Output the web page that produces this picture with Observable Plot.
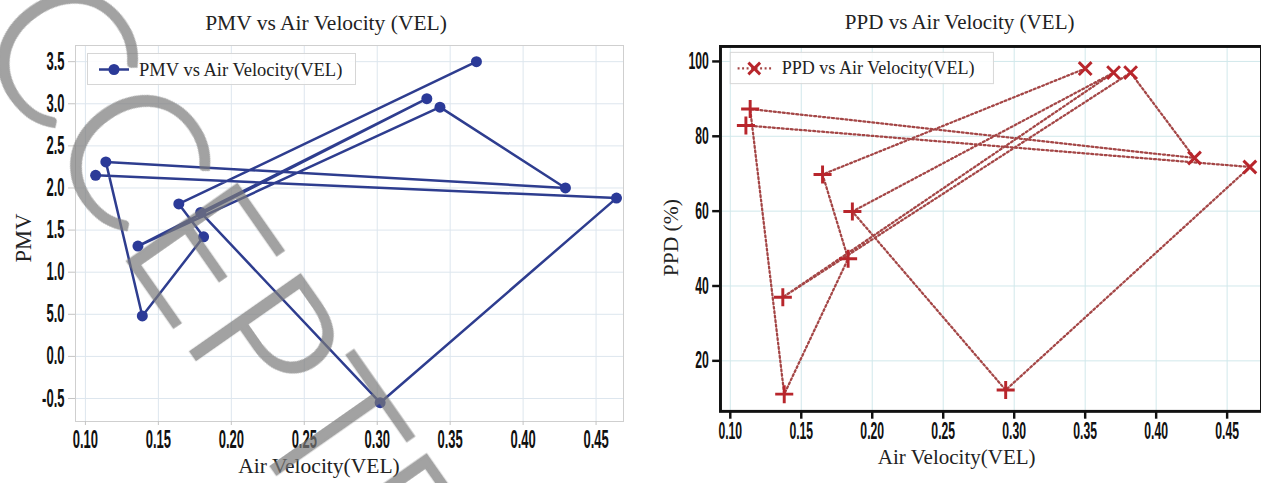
<!DOCTYPE html>
<html><head><meta charset="utf-8">
<script src="https://cdn.jsdelivr.net/npm/d3@7"></script>
<script src="https://cdn.jsdelivr.net/npm/@observablehq/plot@0.6"></script>
<style>
html,body{margin:0;padding:0;background:#fff;}
#wrap{position:relative;width:1261px;height:483px;overflow:hidden;background:#fff;}
#left{position:absolute;left:0;top:0;}
#right{position:absolute;left:630px;top:0;}
#wm{position:absolute;left:0;top:0;pointer-events:none;}
</style></head><body>
<div id="wrap"><div id="left"></div><div id="right"></div><svg id="wm" width="1261" height="483"></svg></div>
<script>
// ---- data (in plotting order) ----
const pmvVel = [0.107, 0.464, 0.302, 0.179, 0.334, 0.136, 0.343, 0.429, 0.114, 0.139, 0.181, 0.164, 0.368];
const pmvVal = [2.15, 1.88, -0.55, 1.71, 3.06, 1.31, 2.96, 2.00, 2.31, 0.48, 1.42, 1.81, 3.50];
const ppdVel = [0.111, 0.466, 0.294, 0.186, 0.370, 0.137, 0.382, 0.427, 0.114, 0.138, 0.183, 0.165, 0.350];
const ppdVal = [82.9, 71.8, 12.2, 59.9, 97.0, 37.0, 97.0, 74.2, 87.3, 11.1, 47.3, 69.8, 98.1];

const velTicks = [0.10, 0.15, 0.20, 0.25, 0.30, 0.35, 0.40, 0.45];
const velTickLabels = ["0.10", "0.15", "0.20", "0.25", "0.30", "0.35", "0.40", "0.45"];
const pmvTicks = [3.5, 3.0, 2.5, 2.0, 1.5, 1.0, 0.5, 0.0, -0.5];
const pmvTickLabels = ["3.5", "3.0", "2.5", "2.0", "1.5", "1.0", "5.0", "0.0", "-0.5"];
const ppdTicks = [100, 80, 60, 40, 20];
const ppdTickLabels = ["100", "80", "60", "40", "20"];

const pmvTitle = "PMV vs Air Velocity (VEL)";
const ppdTitle = "PPD vs Air Velocity (VEL)";
const pmvLegend = "PMV vs Air Velocity(VEL)";
const ppdLegend = "PPD vs Air Velocity(VEL)";
const xLabel = "Air Velocity(VEL)";
const pmvLabel = "PMV";
const ppdLabel = "PPD (%)";
const watermark = ["ACC", "EPTED"];

// ---- build tables ----
const pmvData = pmvVel.map((v, i) => ({vel: v, val: pmvVal[i]}));
const ppdData = ppdVel.map((v, i) => ({vel: v, val: ppdVal[i]}));

const BLUE = "#2e3d8f", BLUE_DOT = "#2b3a98";
const RED_LINE = "#a44646", RED_MK = "#b8262c";
const SERIF = "'Liberation Serif','Times New Roman',serif";
const TICKFONT = "'Liberation Sans',Arial,sans-serif";

function fmt(ticks, labels) { return d => labels[ticks.indexOf(d)] ?? ""; }

function squeezeTicks(svg, sx, fs) {
  d3.select(svg).selectAll('g[aria-label="x-axis tick label"] text, g[aria-label="y-axis tick label"] text')
    .each(function() {
      const el = d3.select(this);
      let t = el.attr("transform");
      if (!t) {
        const x = +el.attr("x") || 0, y = +el.attr("y") || 0;
        el.attr("x", null).attr("y", null);
        t = `translate(${x},${y})`;
      }
      el.attr("transform", t + ` scale(${sx},1)`)
        .attr("font-family", TICKFONT).attr("font-weight", "bold").attr("font-size", fs).attr("fill", "#111");
    });
}

function addText(sel, o) {
  const t = sel.append("text").attr("font-family", SERIF).attr("fill", "#222")
    .attr("text-anchor", o.anchor || "start").attr("font-size", o.size).text(o.text);
  if (o.transform) t.attr("transform", o.transform); else t.attr("x", o.x).attr("y", o.y);
  return t;
}

// ---- left chart ----
const left = Plot.plot({
  width: 630, height: 483,
  marginLeft: 75, marginRight: 7, marginTop: 45, marginBottom: 62,
  x: {domain: [0.0932, 0.4688]},
  y: {domain: [-0.773, 3.692]},
  style: {background: "transparent", overflow: "visible"},
  marks: [
    Plot.gridX(velTicks, {stroke: "#dde6ee", strokeOpacity: 1}),
    Plot.gridY(pmvTicks, {stroke: "#dde6ee", strokeOpacity: 1}),
    Plot.frame({stroke: "#cfcfcf"}),
    Plot.axisX(velTicks, {tickFormat: fmt(velTicks, velTickLabels), tickSize: 4, tickPadding: 5, stroke: "#c4c4c4", label: null}),
    Plot.axisY(pmvTicks, {tickFormat: fmt(pmvTicks, pmvTickLabels), tickSize: 7, tickPadding: 4, stroke: "#c4c4c4", label: null}),
    Plot.line(pmvData, {x: "vel", y: "val", stroke: BLUE, strokeWidth: 2.5}),
    Plot.dot(pmvData, {x: "vel", y: "val", r: 5.5, fill: BLUE_DOT, stroke: "none"})
  ]
});
squeezeTicks(left, 0.52, 25);
{
  const s = d3.select(left);
  addText(s, {x: 326, y: 30, anchor: "middle", size: 21.5, text: pmvTitle});
  addText(s, {x: 319, y: 473, anchor: "middle", size: 21.5, text: xLabel});
  addText(s, {transform: "translate(31,238) rotate(-90)", anchor: "middle", size: 22.5, text: pmvLabel});
  const g = s.append("g");
  g.append("rect").attr("x", 87.5).attr("y", 53.5).attr("width", 268).attr("height", 31)
    .attr("fill", "rgba(255,255,255,0.85)").attr("stroke", "#d6d6d6");
  g.append("line").attr("x1", 99).attr("x2", 129).attr("y1", 69.5).attr("y2", 69.5).attr("stroke", BLUE).attr("stroke-width", 2.5);
  g.append("circle").attr("cx", 114).attr("cy", 69.5).attr("r", 5.5).attr("fill", BLUE_DOT);
  addText(g, {x: 139, y: 75.5, size: 18.5, text: pmvLegend});
}
document.getElementById("left").appendChild(left);

// ---- right chart ----
const right = Plot.plot({
  width: 645, height: 483,
  marginLeft: 92, marginRight: 0, marginTop: 47, marginBottom: 63,
  x: {domain: [0.0931, 0.4742]},
  y: {domain: [6.5, 104]},
  style: {background: "transparent", overflow: "visible"},
  marks: [
    Plot.gridX(velTicks, {stroke: "#d0e7eb", strokeOpacity: 1}),
    Plot.gridY(ppdTicks, {stroke: "#d0e7eb", strokeOpacity: 1}),
    Plot.axisX(velTicks, {tickFormat: fmt(velTicks, velTickLabels), tickSize: 8, tickPadding: 3, stroke: "#111", strokeWidth: 2.5, label: null}),
    Plot.axisY(ppdTicks, {tickFormat: fmt(ppdTicks, ppdTickLabels), tickSize: 8, tickPadding: 4, stroke: "#111", strokeWidth: 2.5, label: null}),
    Plot.line(ppdData, {x: "vel", y: "val", stroke: RED_LINE, strokeWidth: 2.3, strokeDasharray: "2,2.6"}),
    Plot.dot(ppdData, {x: "vel", y: "val", r: 6, stroke: RED_MK, strokeWidth: 3,
      symbol: d => d.vel > 0.32 ? "times" : "plus"}),
    Plot.frame({stroke: "#111", strokeWidth: 3})
  ]
});
squeezeTicks(right, 0.52, 24);
{
  const s = d3.select(right);
  addText(s, {x: 337, y: 30, anchor: "middle", size: 21.5, text: ppdTitle});
  addText(s, {x: 334, y: 474, anchor: "middle", size: 21.5, text: xLabel});
  addText(s, {transform: "translate(49,243) rotate(-90)", anchor: "middle", size: 22, text: ppdLabel});
  const g = s.append("g");
  g.append("rect").attr("x", 102.5).attr("y", 53.5).attr("width", 269).attr("height", 32)
    .attr("fill", "rgba(255,255,255,0.85)").attr("stroke", "#d6d6d6");
  g.append("line").attr("x1", 110).attr("x2", 146).attr("y1", 70).attr("y2", 70).attr("stroke", RED_LINE)
    .attr("stroke-width", 2.3).attr("stroke-dasharray", "2,2.6");
  g.append("path").attr("d", "M121,64L133,76M133,64L121,76").attr("stroke", RED_MK).attr("stroke-width", 3);
  addText(g, {x: 155, y: 76, size: 18.5, text: ppdLegend});
}
document.getElementById("right").appendChild(right);

// ---- watermark ----
{
  const w = d3.select("#wm").append("g").attr("opacity", 0.7);
  const base = "translate(116,245) rotate(55)";
  [["end", watermark[0]], ["start", watermark[1]]].forEach(([a, t]) => {
    w.append("text").attr("transform", base).attr("text-anchor", a)
      .attr("font-family", "Lato, 'DejaVu Sans', sans-serif").attr("font-weight", 300)
      .attr("font-size", 190).attr("fill", "#7a7a7a").attr("stroke", "#7a7a7a").attr("stroke-width", 2.5)
      .attr("stroke-linejoin", "miter").text(t);
  });
}
</script>
</body></html>
